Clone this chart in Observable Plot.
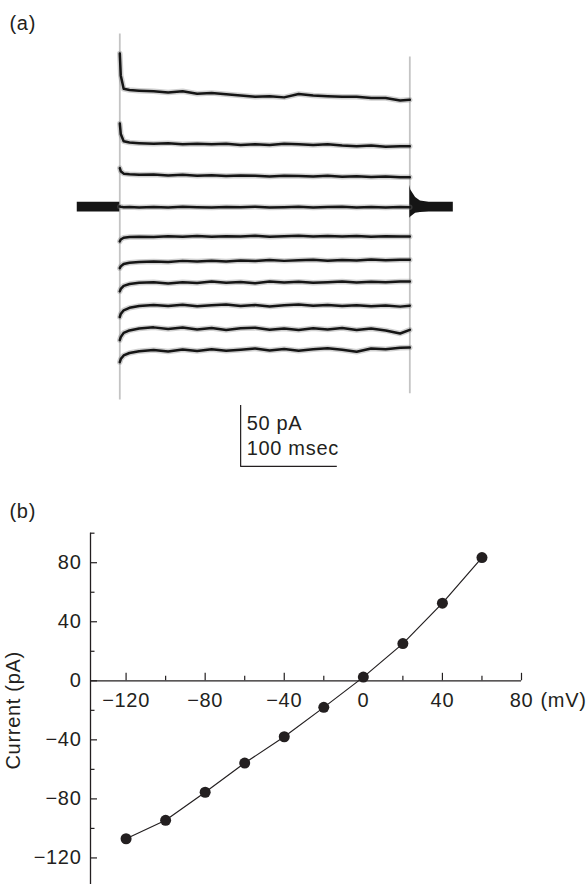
<!DOCTYPE html>
<html>
<head>
<meta charset="utf-8">
<script src="https://cdn.jsdelivr.net/npm/d3@7"></script>
<script src="https://cdn.jsdelivr.net/npm/@observablehq/plot@0.6"></script>
<style>
  body { margin: 0; background: #fff; }
  #wrap { position: relative; width: 587px; height: 884px; overflow: hidden; background: #fff; }
  #pa { position: absolute; left: 0; top: 0; }
  #pb { position: absolute; left: 0; top: 490px; }
  svg text { letter-spacing: 0.7px; }
</style>
</head>
<body>
<div id="wrap"><div id="pa"></div><div id="pb"></div></div>
<script>
// ---------------- DATA ----------------
// Panel (a): whole-cell current traces (pA) at step potentials (mV)
const panelLabels = ["(a)", "(b)"];
const stepVoltages = [60, 40, 20, 0, -20, -40, -60, -80, -100, -120];
const traceTimes = [0, 1, 4, 10, 20, 35, 50, 65, 80, 95, 110, 125, 140, 155, 170, 185, 200, 215, 230, 245, 260, 275, 290, 300]; // ms
const trace60  = [126, 108, 97, 96, 95.5, 95, 94, 95, 93, 93.5, 92.5, 91.5, 90.5, 91, 90, 92.8, 91.5, 91, 90.5, 90.5, 89.5, 89.5, 87.5, 88];
const trace40  = [68.6, 60, 54, 53, 52.5, 52, 52.5, 51.5, 52, 51.5, 52, 51, 51.5, 51, 52, 51.5, 51, 51.5, 50.5, 50, 50.5, 49.5, 50, 50];
const trace20  = [32, 29.5, 27.5, 27, 26.5, 26.8, 26, 26.5, 25.8, 26.2, 25.5, 26, 25.8, 25.2, 25.8, 25.5, 25.2, 25.8, 25, 25.3, 24.8, 25.2, 24.6, 24.6];
const trace0   = [0.5, 0.3, 0, 0.2, -0.3, 0.2, -0.2, 0.3, 0, -0.3, 0.2, 0, 0.4, -0.2, 0, 0.3, -0.2, 0.1, 0.3, -0.3, 0.1, -0.2, 0.2, 0];
const traceM20 = [-28, -26.5, -25, -24.5, -24.2, -24.5, -23.8, -24.3, -23.6, -24.2, -23.8, -24, -23.5, -24.2, -23.8, -23.5, -24.1, -23.7, -24, -23.6, -24.2, -23.8, -24, -24];
const traceM40 = [-50, -48.5, -46.5, -45.5, -45, -44.5, -45, -44, -44.6, -43.8, -44.5, -43.6, -44.2, -43.2, -44, -43.5, -43, -43.8, -43.2, -43.6, -42.8, -43.4, -43, -43];
const traceM60 = [-69, -67, -64.5, -63, -62, -61.5, -62.5, -61.6, -62.2, -61, -62, -61.4, -62.4, -61, -61.8, -61.2, -62, -61.5, -61, -61.8, -61.2, -61.6, -61, -61];
const traceM80 = [-90, -87.5, -84.5, -82.5, -81, -80.2, -81, -80, -81.2, -80.4, -79.8, -81, -80.2, -81.3, -80.4, -79.8, -80.8, -80.2, -81, -80.4, -81.2, -80.5, -81.5, -80.8];
const traceM100 = [-109, -106.5, -103, -101, -99.5, -98.5, -99.8, -98.6, -100.2, -99, -100.6, -99.2, -98.8, -100.4, -99.4, -100.6, -99.2, -100.2, -99, -100.6, -99.5, -101, -103.5, -100.5];
const traceM120 = [-127, -124.5, -121.5, -119.5, -118, -117, -118.2, -116.6, -117.8, -116.4, -117.6, -116.8, -115.8, -117.4, -116.2, -117.6, -116.4, -115.6, -116.8, -118.5, -115.8, -116.4, -115.2, -115];
const traceValues = [trace60, trace40, trace20, trace0, traceM20, traceM40, traceM60, traceM80, traceM100, traceM120];

// holding current before the step and capacitive tail after it (pA envelope)
const holdTimes = [-44, 0];
const holdUpper = [4, 4];
const holdLower = [-4, -4];
const tailTimes = [300, 301, 306, 311, 320, 345];
const tailUpper = [18, 14, 8, 5, 4, 4];
const tailLower = [-9, -8, -5, -4.3, -4, -4];

// stimulus on/off markers (ms) and their extent (pA)
const stimTimes = [0, 300];
const stimTop = [142, 123];
const stimBottom = [-158, -153];

// scale bar: 50 pA / 100 msec
const scaleBarTexts = ["50 pA", "100 msec"];
const scaleBarAmp = 50;   // pA
const scaleBarDur = 100;  // ms
const scaleBarStart = 125;   // ms
const scaleBarBase = -212.5; // pA
const scaleBarTextY = [-183, -203.5]; // pA

// Panel (b): I-V relation
const voltages = [-120, -100, -80, -60, -40, -20, 0, 20, 40, 60]; // mV
const currents = [-107, -94.5, -75.5, -55.7, -37.9, -18, 2.5, 25.2, 52.6, 83.5]; // pA
const xMajorTicks = [-120, -80, -40, 0, 40, 80];
const xMinorTicks = [-100, -60, -20, 20, 60];
const yMajorTicks = [80, 40, 0, -40, -80, -120];
const yMinorTicks = [100, 60, 20, -20, -60, -100];
const yAxisLabel = "Current (pA)";
const yAxisLabelAt = -20; // pA, centre of the rotated label
const xUnitLabel = "(mV)";

// ---------------- DRAW ----------------
const ink = "#231f20";
const font = {fontFamily: "'Liberation Sans', Arial, Helvetica, sans-serif", fontSize: "20px", color: ink, background: "#fff", overflow: "visible"};
const fmt = d => d < 0 ? "\u2212" + Math.abs(d) : String(d);

const traceRows = [];
stepVoltages.forEach((v, k) => traceTimes.forEach((t, i) => traceRows.push({v, t, i: traceValues[k][i]})));
const holdRows = holdTimes.map((t, i) => ({t, hi: holdUpper[i], lo: holdLower[i]}));
const tailRows = tailTimes.map((t, i) => ({t, hi: tailUpper[i], lo: tailLower[i]}));
const stimRows = stimTimes.map((t, i) => ({t, top: stimTop[i], bottom: stimBottom[i]}));

const plotA = Plot.plot({
  width: 587, height: 490,
  marginLeft: 0, marginRight: 0, marginTop: 0, marginBottom: 0,
  x: {domain: [-123.4, 483.8], axis: null},
  y: {domain: [-232.2, 169.4], axis: null},
  style: font,
  marks: [
    Plot.ruleX(stimRows, {x: "t", y1: "top", y2: "bottom", stroke: "#c4c4c4", strokeWidth: 1.8}),
    Plot.areaY(holdRows, {x: "t", y1: "lo", y2: "hi", fill: "#151515"}),
    Plot.areaY(tailRows, {x: "t", y1: "lo", y2: "hi", fill: "#151515"}),
    Plot.line(traceRows, {x: "t", y: "i", z: "v", stroke: "#777", strokeOpacity: 0.35, strokeWidth: 5.5}),
    Plot.line(traceRows, {x: "t", y: "i", z: "v", stroke: "#151515", strokeWidth: 2.5}),
    Plot.ruleX([scaleBarStart], {y1: scaleBarBase, y2: scaleBarBase + scaleBarAmp, stroke: ink, strokeWidth: 1.2}),
    Plot.ruleY([scaleBarBase], {x1: scaleBarStart, x2: scaleBarStart + scaleBarDur, stroke: ink, strokeWidth: 1.2}),
    Plot.text(scaleBarTexts, {x: scaleBarStart, y: (d, i) => scaleBarTextY[i], text: d => d, textAnchor: "start", lineAnchor: "bottom", dx: 6, fill: ink}),
    Plot.text([panelLabels[0]], {frameAnchor: "top-left", text: d => d, textAnchor: "start", lineAnchor: "bottom", dx: 9, dy: 29, fill: ink, fontSize: 20})
  ]
});
document.getElementById("pa").appendChild(plotA);

const xMin = -138, xMax = 80, yMin = -138, yMax = 100;
const plotB = Plot.plot({
  width: 587, height: 394,
  marginLeft: 90, marginRight: 66, marginTop: 42.7, marginBottom: 0,
  x: {domain: [xMin, xMax], axis: null},
  y: {domain: [yMin, yMax], axis: null},
  style: font,
  marks: [
    // axes lines
    Plot.ruleX([xMin], {y1: yMin, y2: yMax, stroke: ink, strokeWidth: 1.3}),
    Plot.ruleY([0], {x1: xMin, x2: xMax, stroke: ink, strokeWidth: 1.3}),
    // y ticks (inward, right)
    Plot.ruleY(yMajorTicks, {y: d => d, x1: xMin, x2: xMin, insetRight: -7, stroke: ink, strokeWidth: 1.2}),
    Plot.ruleY(yMinorTicks, {y: d => d, x1: xMin, x2: xMin, insetRight: -4.5, stroke: ink, strokeWidth: 1.2}),
    // x ticks (upward)
    Plot.ruleX(xMajorTicks, {x: d => d, y1: 0, y2: 0, insetTop: -7.5, stroke: ink, strokeWidth: 1.2}),
    Plot.ruleX(xMinorTicks, {x: d => d, y1: 0, y2: 0, insetTop: -4.5, stroke: ink, strokeWidth: 1.2}),
    // tick labels
    Plot.text(yMajorTicks, {x: xMin, y: d => d, text: fmt, textAnchor: "end", dx: -9, fill: ink}),
    Plot.text(xMajorTicks, {x: d => d, y: 0, text: fmt, lineAnchor: "bottom", dy: 26.5, fill: ink}),
    Plot.text([xUnitLabel], {x: xMax, y: 0, text: d => d, textAnchor: "start", lineAnchor: "bottom", dy: 26.5, dx: 19, fill: ink}),
    Plot.text([yAxisLabel], {x: xMin, y: yAxisLabelAt, text: d => d, rotate: -90, dx: -77, fill: ink}),
    Plot.text([panelLabels[1]], {frameAnchor: "top-left", text: d => d, textAnchor: "start", lineAnchor: "bottom", dx: -81, dy: -15.7, fill: ink, fontSize: 20}),
    // data
    Plot.line(voltages.map((v, i) => ({v, c: currents[i]})), {x: "v", y: "c", stroke: ink, strokeWidth: 1.2}),
    Plot.dot(voltages.map((v, i) => ({v, c: currents[i]})), {x: "v", y: "c", r: 5.5, fill: ink, stroke: "none"})
  ]
});
document.getElementById("pb").appendChild(plotB);
</script>
</body>
</html>
